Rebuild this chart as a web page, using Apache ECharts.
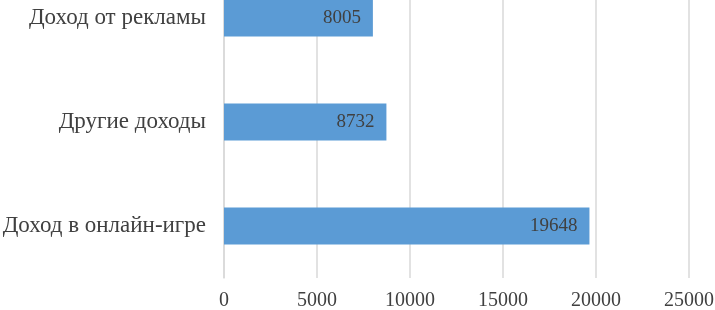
<!DOCTYPE html>
<html><head><meta charset="utf-8">
<script src="https://cdn.jsdelivr.net/npm/echarts@6/dist/echarts.min.js"></script>
<style>html,body{margin:0;padding:0;background:#fff;overflow:hidden;width:715px;height:310px}#c{width:715px;height:344px;margin-top:-34px}</style>
</head><body><div id="c"></div>
<script>
const categories = ['Доход в онлайн-игре', 'Другие доходы', 'Доход от рекламы'];
const values = [19648, 8732, 8005];
const xTicks = [0, 5000, 10000, 15000, 20000, 25000];

const chart = echarts.init(document.getElementById('c'));
const font = '"Liberation Serif", "Times New Roman", serif';
chart.setOption({
  animation: false,
  grid: { left: 224, right: 26, top: 0, bottom: 32, containLabel: false, outerBoundsMode: 'none' },
  xAxis: {
    type: 'value', min: xTicks[0], max: xTicks[xTicks.length - 1], interval: 5000,
    axisLine: { show: false }, axisTick: { show: false },
    splitLine: { show: true, lineStyle: { color: '#d9d9d9', width: 1.5 } },
    axisLabel: { fontFamily: font, fontSize: 20, color: '#404040', margin: 13, formatter: v => String(v) }
  },
  yAxis: {
    type: 'category', data: categories,
    axisLine: { show: true, lineStyle: { color: '#d9d9d9', width: 1.5 } },
    axisTick: { show: false },
    axisLabel: { fontFamily: font, fontSize: 23, color: '#404040', margin: 18 }
  },
  series: [{
    type: 'bar', data: values, barWidth: 37,
    itemStyle: { color: '#5B9BD5' },
    label: { show: true, position: 'insideRight', distance: 12, fontFamily: font, fontSize: 19, color: '#404040' }
  }]
});
</script></body></html>
